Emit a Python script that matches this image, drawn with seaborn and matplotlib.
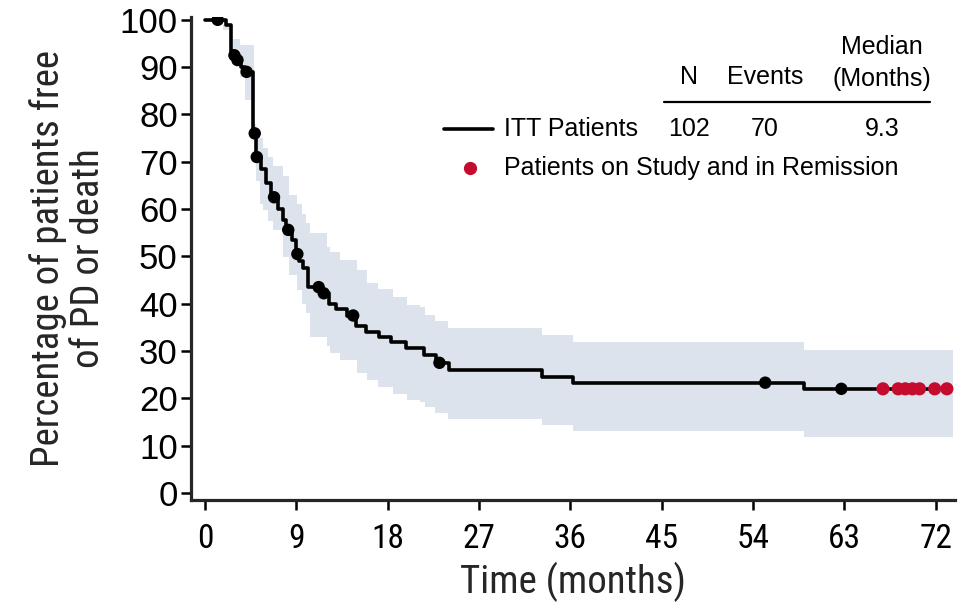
import os
import numpy as np
import pandas as pd
import matplotlib
matplotlib.use("Agg")
import matplotlib.pyplot as plt
from matplotlib import font_manager
from matplotlib.font_manager import FontProperties
from matplotlib.lines import Line2D
import seaborn as sns

# Kaplan-Meier estimate: survival (%) holds from each time until the next one
km_time = [0, 2.1, 2.6, 2.85, 3.1, 3.5, 3.9, 4.75, 5.0, 5.5, 6.0, 6.5, 7.2, 7.7,
           8.0, 8.6, 9.0, 9.3, 9.7, 10.1, 11.4, 12.2, 12.9, 14.0, 14.9, 15.9,
           17.1, 18.3, 19.8, 21.6, 22.8, 24.0, 33.2, 36.3, 59.0, 73.1]
km_surv = [100, 99, 93.5, 92.5, 91.5, 90, 89, 76, 71, 68.5, 65.5, 62.5, 60, 57.7,
           55.6, 53.5, 50.5, 49, 47.5, 43.5, 42.2, 40, 38.8, 37.5, 35.3, 34.1,
           33, 31.9, 30.6, 29.2, 27.5, 26, 24.5, 23.3, 22.0, 22.0]

# 95% confidence band, also a step function
band_time = [0, 1.8, 2.8, 3.4, 3.9, 4.8, 5.0, 5.4, 5.7, 6.2, 6.7, 7.7, 8.3, 9.1,
             9.6, 10.0, 10.3, 12.0, 12.3, 13.3, 15.0, 16.0, 17.0, 18.5, 19.9,
             21.2, 21.7, 22.7, 23.9, 33.2, 36.3, 59.0, 73.7]
band_high = [100, 99, 96, 94.7, 94.7, 78, 76, 75, 73, 71, 69, 67, 63, 61, 59, 57,
             55, 52, 51, 49.3, 47.1, 44.4, 43, 41.4, 39.7, 39.2, 37.7, 36.3, 34.8,
             33.4, 31.9, 30.2, 30.2]
band_low = [100, 97.9, 93.7, 88, 83, 77, 66, 61, 59.8, 57.5, 55.6, 49.9, 46, 42.9,
            40, 38.1, 33, 31, 29.6, 28, 25.4, 23.8, 22.4, 21, 19.7, 19.3, 18.1,
            16.9, 15.6, 14.4, 13.1, 11.9, 11.9]

# censored ITT patients
censor_time = [1.25, 2.9, 3.2, 4.1, 4.9, 5.1, 6.8, 8.2, 9.1, 11.2, 11.7, 14.6,
               23.1, 55.2, 62.7]
# patients still on study and in remission
remission_time = [66.8, 68.3, 69.0, 69.7, 70.4, 71.9, 73.1]

n_patients = "102"
n_events = "70"
median_months = "9.3"
x_ticks = [0, 9, 18, 27, 36, 45, 54, 63, 72]
y_ticks = [0, 10, 20, 30, 40, 50, 60, 70, 80, 90, 100]

BAND = "#dde3ec"
RED = "#c60c2e"

sns.set_theme(style="ticks")
plt.rcParams["font.family"] = ["Liberation Sans", "DejaVu Sans"]


def condensed_font_path():
    """Pick an installed narrow/condensed sans-serif face, if there is one."""
    files = [f.fname for f in font_manager.fontManager.ttflist]
    prefs = ["LiberationSansNarrow-Regular", "LiberationSans-Narrow",
             "RobotoCondensed-Regular", "Roboto_Condensed-Regular",
             "OpenSans_Condensed-Regular", "OpenSansCondensed",
             "DejaVuSansCondensed.", "NotoSans-Condensed.",
             "NotoSansDisplay-Condensed.", "Narrow", "Condensed"]
    for key in prefs:
        for f in files:
            base = os.path.basename(f)
            if key in base and "Bold" not in base and "Italic" not in base \
                    and "Oblique" not in base and "Light" not in base \
                    and "Thin" not in base and "Medium" not in base:
                return f
    return None


_narrow_path = condensed_font_path()


def narrow(size):
    if _narrow_path:
        return FontProperties(fname=_narrow_path, size=size)
    return FontProperties(family="Liberation Sans", size=size)


def km_at(t):
    idx = np.searchsorted(km_time, t, side="right") - 1
    return np.asarray(km_surv)[idx]


km = pd.DataFrame({"time": km_time, "surv": km_surv})
cens = pd.DataFrame({"time": censor_time, "surv": km_at(censor_time)})
rem = pd.DataFrame({"time": remission_time, "surv": km_at(remission_time)})

fig = plt.figure(figsize=(9.66, 6.12), dpi=100)
W, H = 966, 612
ax = fig.add_axes([191 / W, 1 - 500 / H, (955 - 191) / W, (500 - 17) / H])

ax.fill_between(band_time, band_low, band_high, step="post", color=BAND, lw=0,
                zorder=1)
sns.lineplot(data=km, x="time", y="surv", drawstyle="steps-post", color="black",
             lw=2.6, estimator=None, sort=False, ax=ax, zorder=3)
sns.scatterplot(data=cens, x="time", y="surv", color="black", s=80,
                edgecolor="none", ax=ax, zorder=4)
sns.scatterplot(data=rem, x="time", y="surv", color=RED, s=90,
                edgecolor="none", ax=ax, zorder=5)

ax.set_xlim(-1.38, 73.9)
ax.set_ylim(-1.5, 100.6)
ax.set_xticks(x_ticks)
ax.set_yticks(y_ticks)
ax.set_xticklabels([str(v) for v in x_ticks], fontproperties=narrow(24))
ax.set_yticklabels([str(v) for v in y_ticks], fontsize=25)
for side in ("top", "right"):
    ax.spines[side].set_visible(False)
for side in ("left", "bottom"):
    ax.spines[side].set_linewidth(2.3)
ax.tick_params(axis="both", direction="out", length=7.5, width=1.8,
               colors="black")
ax.tick_params(axis="x", pad=9)
ax.tick_params(axis="y", pad=2)
ax.set_xlabel("Time (months)", fontproperties=narrow(28), labelpad=5)
ax.set_ylabel("Percentage of patients free\nof PD or death",
              fontproperties=narrow(28), labelpad=9, linespacing=1.1)


def fx(px):
    return px / W


def fy(py):
    return 1 - py / H


txt = dict(fontsize=18, color="black", va="center")
fig.text(fx(882), fy(47), "Median", ha="center", **txt)
fig.text(fx(882), fy(79), "(Months)", ha="center", **txt)
fig.text(fx(689), fy(77), "N", ha="center", **txt)
fig.text(fx(765), fy(77), "Events", ha="center", **txt)
fig.add_artist(Line2D([fx(664), fx(930)], [fy(102), fy(102)], color="black",
                      lw=1.6, transform=fig.transFigure))
fig.add_artist(Line2D([fx(444), fx(493)], [fy(129), fy(129)], color="black",
                      lw=2.6, transform=fig.transFigure))
fig.text(fx(504), fy(129), "ITT Patients", ha="left", **txt)
fig.text(fx(689), fy(129), n_patients, ha="center", **txt)
fig.text(fx(765), fy(129), n_events, ha="center", **txt)
fig.text(fx(882), fy(129), median_months, ha="center", **txt)
fig.add_artist(Line2D([fx(470)], [fy(168)], marker="o", ms=8.5, color=RED,
                      lw=0, transform=fig.transFigure))
fig.text(fx(504), fy(168), "Patients on Study and in Remission", ha="left",
         **txt)

fig.savefig("out.png", dpi=100, facecolor="white")
